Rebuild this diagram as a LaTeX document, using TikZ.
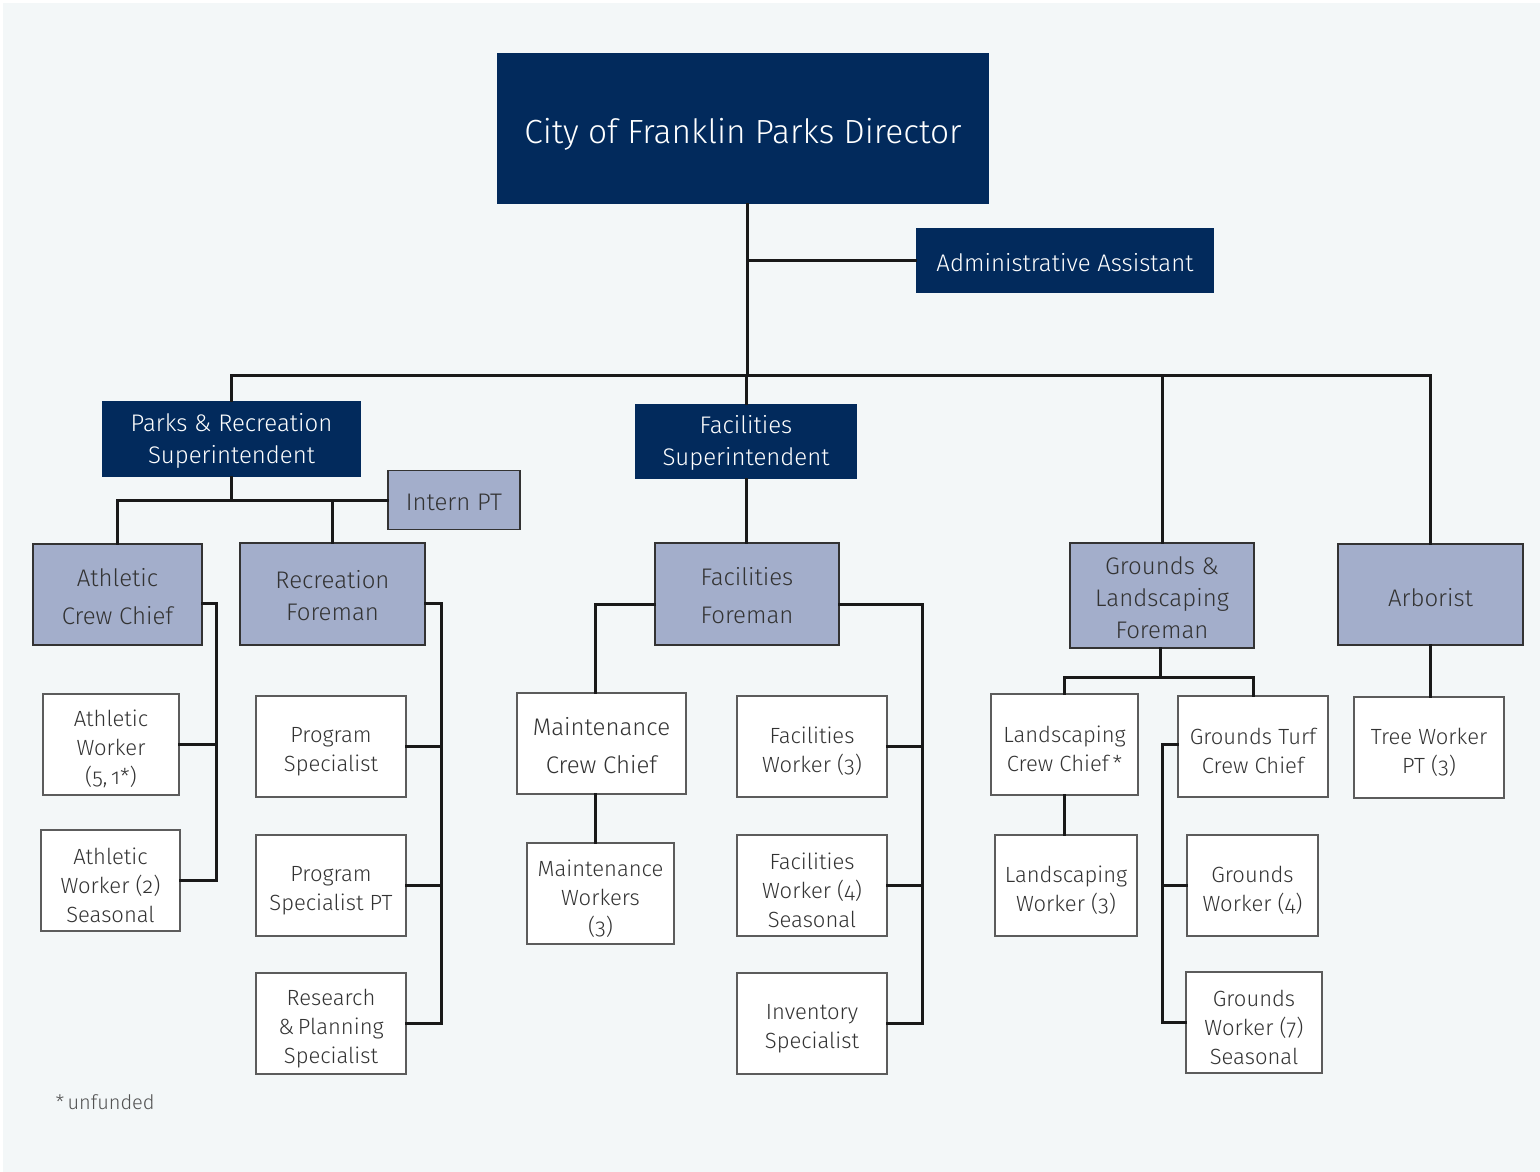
\documentclass[tikz,border=0pt]{standalone}
\usepackage{fontspec}
\setmainfont{Fira Sans Light}[Numbers=OldStyle]
\definecolor{navy}{HTML}{022A5C}
\definecolor{lilac}{HTML}{A3AECB}
\definecolor{paper}{HTML}{F3F7F8}
\definecolor{ink}{HTML}{333333}
% first-line struts that push multi-line labels down a little
\newcommand\dropw{\rule{0pt}{26pt}}
\newcommand\dropl{\rule{0pt}{21.5pt}}
\tikzset{
  textdrop/.style={execute at begin node={\rule{0pt}{#1}}},
  darkbox/.style={fill=navy,text=white,inner sep=0pt,align=center,font=\fontsize{24}{32}\selectfont,textdrop=22pt},
  lightbox/.style={fill=lilac,draw=ink,line width=1.2pt,text=ink,inner sep=0pt,align=center,font=\fontsize{24}{32}\selectfont,textdrop=22pt},
  whitebox/.style={fill=white,draw=ink!80,line width=1.2pt,text=ink,inner sep=0pt,align=center,font=\fontsize{22}{29}\selectfont},
  link/.style={line width=3pt,draw=black!90}
}
\begin{document}
\begin{tikzpicture}[x=1pt,y=-1pt,line cap=rect,line join=miter]
\fill[white] (0,0) rectangle (1540,1172);
\fill[paper] (3,3) rectangle (1540,1172);
\useasboundingbox (0,0) rectangle (1540,1172);

% top level
\node[darkbox,minimum width=492pt,minimum height=151pt,font=\fontsize{33.5}{40}\selectfont,textdrop=36pt] (dir) at (743,128.5) {City of Franklin Parks Director};
\node[darkbox,minimum width=298pt,minimum height=65pt] (admin) at (1065,260.5) {Administrative Assistant};
\coordinate (bus) at (747,375);

% superintendents and foremen
\node[darkbox,minimum width=259pt,minimum height=76pt] (prs) at (231.5,439) {\dropl Parks \& Recreation\\Superintendent};
\node[darkbox,minimum width=222pt,minimum height=75pt] (fsup) at (746,441.5) {\dropl Facilities\\Superintendent};
\node[lightbox,minimum width=132pt,minimum height=59pt] (intern) at (454,500) {Intern PT};
\node[lightbox,minimum width=169pt,minimum height=101pt,font=\fontsize{24}{38}\selectfont] (acc) at (117.5,594.5) {\dropl Athletic\\Crew Chief};
\node[lightbox,minimum width=185pt,minimum height=102pt] (rf) at (332.5,594) {\dropl Recreation\\Foreman};
\node[lightbox,minimum width=184pt,minimum height=102pt,font=\fontsize{24}{38}\selectfont] (ff) at (747,594) {\dropl Facilities\\Foreman};
\node[lightbox,minimum width=184pt,minimum height=105pt] (glf) at (1162,595.5) {\dropl Grounds \&\\Landscaping\\Foreman};
\node[lightbox,minimum width=185pt,minimum height=101pt,textdrop=24pt] (arb) at (1430.5,594.5) {Arborist};

% staff
\node[whitebox,minimum width=136pt,minimum height=101pt] (aw1) at (111,744.5) {\dropw Athletic\\Worker\\(5,\,1*)};
\node[whitebox,minimum width=139pt,minimum height=101pt] (aw2) at (110.5,880.5) {\dropw Athletic\\Worker (2)\\Seasonal};
\node[whitebox,minimum width=150pt,minimum height=101pt] (ps) at (331,746.5) {\dropw Program\\Specialist};
\node[whitebox,minimum width=150pt,minimum height=101pt] (psp) at (331,885.5) {\dropw Program\\Specialist PT};
\node[whitebox,minimum width=150pt,minimum height=101pt] (rps) at (331,1023.5) {\dropw Research\\\&\,Planning\\Specialist};
\node[whitebox,minimum width=169pt,minimum height=101pt,font=\fontsize{24}{38}\selectfont] (mcc) at (601.5,743.5) {\dropl Maintenance\\Crew Chief};
\node[whitebox,minimum width=147pt,minimum height=101pt] (mw) at (600.5,893.5) {\dropw Maintenance\\Workers\\(3)};
\node[whitebox,minimum width=150pt,minimum height=101pt] (fw3) at (812,746.5) {\dropw Facilities\\Worker (3)};
\node[whitebox,minimum width=150pt,minimum height=101pt] (fw4) at (812,885.5) {\dropw Facilities\\Worker (4)\\Seasonal};
\node[whitebox,minimum width=150pt,minimum height=101pt] (inv) at (812,1023.5) {\dropw Inventory\\Specialist};
\node[whitebox,minimum width=147pt,minimum height=101pt] (lcc) at (1064.5,744.5) {\dropw Landscaping\\Crew Chief\,*};
\node[whitebox,minimum width=150pt,minimum height=101pt] (gtc) at (1253,746.5) {\dropw Grounds Turf\\Crew Chief};
\node[whitebox,minimum width=142pt,minimum height=101pt] (lw) at (1066,885.5) {\dropw Landscaping\\Worker (3)};
\node[whitebox,minimum width=131pt,minimum height=101pt] (gw4) at (1252.5,885.5) {\dropw Grounds\\Worker (4)};
\node[whitebox,minimum width=136pt,minimum height=101pt] (gw7) at (1254,1022.5) {\dropw Grounds\\Worker (7)\\Seasonal};
\node[whitebox,minimum width=150pt,minimum height=101pt] (tw) at (1429,747.5) {\dropw Tree Worker\\PT (3)};

\node[anchor=base west,text=ink!85,font=\fontsize{20}{24}\selectfont] (note) at (52,1109) {*\,unfunded};

% joints
\coordinate (aj) at (216,603);
\coordinate (rj) at (441,603);
\coordinate (mj) at (595,604);
\coordinate (fj) at (922,604);
\coordinate (gj) at (1160,677);
\coordinate (tj) at (1162,744);

% director and bus
\draw[link] (dir.south -| bus) -- (bus);
\draw[link] (admin.west) -- (admin.west -| bus);
\draw[link] (prs.north) |- (bus) -| (arb.north);
\draw[link] (fsup.north) -- (fsup.north |- bus);
\draw[link] (glf.north) -- (glf.north |- bus);

% parks and recreation
\draw[link] (prs.south) -- (prs.south |- intern.west);
\draw[link] (acc.north) |- (intern.west);
\draw[link] (rf.north) -- (rf.north |- intern.west);
\draw[link] (aj -| acc.east) -- (aj) |- (aw2.east);
\draw[link] (aw1.east) -- (aw1.east -| aj);
\draw[link] (rj -| rf.east) -- (rj) |- (rps.east);
\draw[link] (ps.east) -- (ps.east -| rj);
\draw[link] (psp.east) -- (psp.east -| rj);

% facilities
\draw[link] (fsup.south) -- (fsup.south |- ff.north);
\draw[link] (mj -| ff.west) -- (mj) -- (mj |- mcc.north);
\draw[link] (mcc.south -| mj) -- (mj |- mw.north);
\draw[link] (fj -| ff.east) -- (fj) |- (inv.east);
\draw[link] (fw3.east) -- (fw3.east -| fj);
\draw[link] (fw4.east) -- (fw4.east -| fj);

% grounds and landscaping
\draw[link] (glf.south -| gj) -- (gj);
\draw[link] (lcc.north) |- (gj) -| (gtc.north);
\draw[link] (lcc.south) -- (lcc.south |- lw.north);
\draw[link] (tj -| gtc.west) -- (tj) |- (gw7.west);
\draw[link] (gw4.west) -- (gw4.west -| tj);

% arborist
\draw[link] (arb.south) -- (arb.south |- tw.north);
\end{tikzpicture}
\end{document}
